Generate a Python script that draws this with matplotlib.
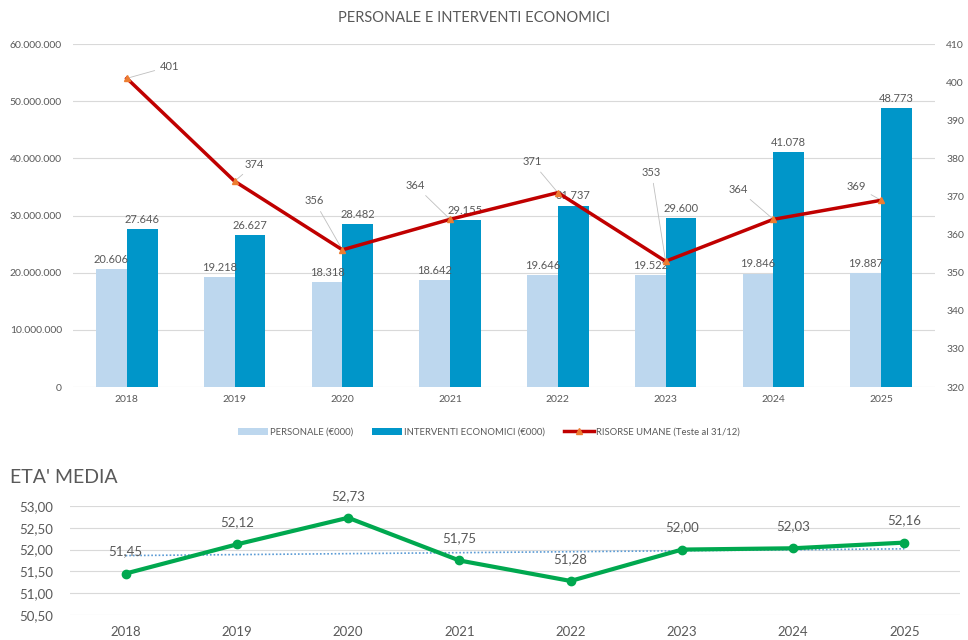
import matplotlib
matplotlib.use("Agg")
import matplotlib.pyplot as plt
import numpy as np
from matplotlib.ticker import FuncFormatter, MultipleLocator

plt.rcParams['font.family'] = ['Lato', 'DejaVu Sans']

years = ['2018', '2019', '2020', '2021', '2022', '2023', '2024', '2025']
personale = [20606, 19218, 18318, 18642, 19646, 19522, 19846, 19887]        # €000
interventi = [27646, 26627, 28482, 29155, 31737, 29600, 41078, 48773]      # €000
risorse = [401, 374, 356, 364, 371, 353, 364, 369]
eta_media = [51.45, 52.12, 52.73, 51.75, 51.28, 52.00, 52.03, 52.16]

# label offsets (pixels) for the RISORSE UMANE labels
ris_off = [(43, 12), (20, 17), (-28, 49), (-35, 34), (-26, 31), (-14, 89), (-35, 30), (-25, 14)]

GREY = '#595959'
GRID = '#D9D9D9'
C_LIGHT = '#BDD7EE'
C_DARK = '#0096C9'
C_RED = '#C00000'
C_ORANGE = '#ED7D31'
C_GREEN = '#00A84F'

fig = plt.figure(figsize=(9.68, 6.4), dpi=100)

# ---------------- top chart ----------------
ax = fig.add_axes([0.0754, 0.3953, 0.8905, 0.5359])
x = np.arange(len(years))
w = 0.285
vals_p = np.array(personale) * 1000
vals_i = np.array(interventi) * 1000
bp = ax.bar(x - w / 2, vals_p, w, color=C_LIGHT, label='PERSONALE (€000)', zorder=2)
bi = ax.bar(x + w / 2, vals_i, w, color=C_DARK, label='INTERVENTI ECONOMICI (€000)', zorder=2)
fmt_k = lambda v: f"{int(v):,}".replace(',', '.')
ax.bar_label(bp, labels=[fmt_k(v) for v in personale], padding=3, fontsize=8, color=GREY)
ax.bar_label(bi, labels=[fmt_k(v) for v in interventi], padding=3, fontsize=8, color=GREY)
ax.set_ylim(0, 60_000_000)
ax.yaxis.set_major_locator(MultipleLocator(10_000_000))
ax.yaxis.set_major_formatter(FuncFormatter(lambda v, p: fmt_k(v)))
ax.set_xlim(-0.5, len(years) - 0.5)
ax.set_xticks(x)
ax.set_xticklabels(years)
ax.grid(axis='y', color=GRID, lw=0.8, zorder=0)
ax.set_axisbelow(True)
for s in ax.spines.values():
    s.set_visible(False)
ax.tick_params(axis='both', length=0, labelsize=7.5, colors=GREY, pad=6)
ax.tick_params(axis='y', pad=8)

ax2 = ax.twinx()
ln, = ax2.plot(x, risorse, color=C_RED, lw=2.5, marker='^', ms=5,
               mfc=C_ORANGE, mec=C_ORANGE, label='RISORSE UMANE (Teste al 31/12)', zorder=5)
ax2.set_ylim(320, 410)
ax2.yaxis.set_major_locator(MultipleLocator(10))
for s in ax2.spines.values():
    s.set_visible(False)
ax2.tick_params(axis='y', length=0, labelsize=7.5, colors=GREY, pad=8)
for xi, v, off in zip(x, risorse, ris_off):
    ax2.annotate(str(v), xy=(xi, v), xytext=off, textcoords='offset pixels',
                 ha='center', va='center', fontsize=8, color=GREY,
                 arrowprops=dict(arrowstyle='-', color='#BFBFBF', lw=0.6,
                                 shrinkA=2, shrinkB=0))

fig.text(0.49, 0.972, 'PERSONALE E INTERVENTI ECONOMICI', ha='center', va='center',
         fontsize=10.5, color=GREY)

handles = [bp, bi, ln]
fig.legend(handles, [h.get_label() for h in handles], loc='center', bbox_to_anchor=(0.505, 0.325),
           ncol=3, frameon=False, fontsize=6.8, labelcolor=GREY, handlelength=3.2,
           columnspacing=2.0, handletextpad=0.2)

# ---------------- bottom chart ----------------
fig.text(0.010, 0.254, "ETA' MEDIA", ha='left', va='center', fontsize=14, color=GREY)
bx = fig.add_axes([0.0723, 0.0391, 0.9194, 0.1703])
bx.plot(x, eta_media, color=C_GREEN, lw=3, marker='o', ms=6, zorder=4)
coef = np.polyfit(x, eta_media, 1)
bx.plot(x, np.polyval(coef, x), color='#5B9BD5', lw=1.2, ls=(0, (1, 1.2)), zorder=3)
for xi, v in zip(x, eta_media):
    bx.annotate(f"{v:.2f}".replace('.', ','), xy=(xi, v), xytext=(0, 22), textcoords='offset pixels',
                ha='center', va='center', fontsize=9.5, color=GREY)
bx.set_ylim(50.5, 53.0)
bx.yaxis.set_major_locator(MultipleLocator(0.5))
bx.yaxis.set_major_formatter(FuncFormatter(lambda v, p: f"{v:.2f}".replace('.', ',')))
bx.set_xlim(-0.5, len(years) - 0.5)
bx.set_xticks(x)
bx.set_xticklabels(years)
bx.grid(axis='y', color=GRID, lw=0.8, zorder=0)
bx.set_axisbelow(True)
for s in bx.spines.values():
    s.set_visible(False)
bx.tick_params(axis='both', length=0, labelsize=9.5, colors=GREY)
bx.tick_params(axis='x', pad=8)
bx.tick_params(axis='y', pad=12)

fig.savefig('out.png', dpi=100)
